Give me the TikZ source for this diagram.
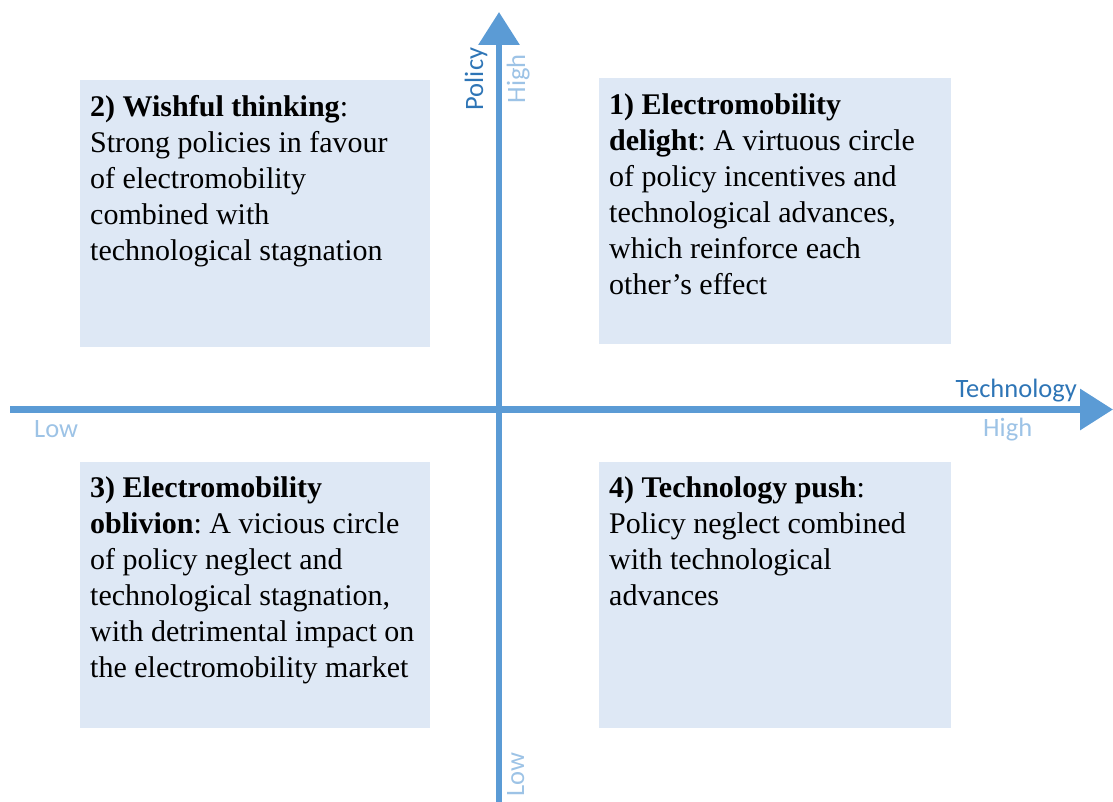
\documentclass[tikz,border=0pt]{standalone}
\usepackage{fontspec}
\setmainfont{Liberation Serif}
\newfontfamily\axisfont{Carlito}
\usetikzlibrary{arrows.meta,calc}
\definecolor{axisblue}{HTML}{5B9BD5}
\definecolor{labdark}{HTML}{2E75B6}
\definecolor{lablight}{HTML}{9DC3E6}
\definecolor{boxfill}{HTML}{DEE8F5}
\frenchspacing
\begin{document}
\begin{tikzpicture}[x=1pt,y=-1pt,
  qbox/.style={rectangle,fill=boxfill,draw=none,inner sep=0pt,anchor=north west},
  qtext/.style={anchor=north west,inner sep=0pt,align=left,font=\fontsize{30}{36}\selectfont\frenchspacing,text=black},
  axisarrow/.style={draw=axisblue,line width=6.5pt,-{Triangle[length=33pt,width=40pt]}},
  axlab/.style={font=\axisfont\fontsize{26.5}{30}\selectfont,inner sep=0pt},
  darklab/.style={axlab,text=labdark},
  lightlab/.style={axlab,text=lablight}]
\useasboundingbox (0,0) rectangle (1113,802);
% quadrant boxes
\node[qbox,minimum width=350pt,minimum height=267pt] (b2) at (80,80) {};
\node[qbox,minimum width=352pt,minimum height=266pt] (b1) at (599,78) {};
\node[qbox,minimum width=350pt,minimum height=266pt] (b3) at (80,462) {};
\node[qbox,minimum width=352pt,minimum height=266pt] (b4) at (599,462) {};
% texts
\node[qtext] (t2) at ($(b2.north west)+(10,10.8)$) {\strut\textbf{2) Wishful thinking}:\\Strong policies in favour\\of electromobility\\combined with\\technological stagnation};
\node[qtext] (t1) at ($(b1.north west)+(10,10.8)$) {\strut\textbf{1) Electromobility}\\\textbf{delight}: A virtuous circle\\of policy incentives and\\technological advances,\\which reinforce each\\other’s effect};
\node[qtext] (t3) at ($(b3.north west)+(10,10)$) {\strut\textbf{3) Electromobility}\\\textbf{oblivion}: A vicious circle\\of policy neglect and\\technological stagnation,\\with detrimental impact on\\the electromobility market};
\node[qtext] (t4) at ($(b4.north west)+(10,10)$) {\strut\textbf{4) Technology push}:\\Policy neglect combined\\with technological\\advances};
% axes
\coordinate (hL) at (10,409.5);
\coordinate (hR) at (1113,409.5);
\coordinate (vB) at (499,802);
\coordinate (vT) at (499,12);
\draw[axisarrow] (hL) -- (hR);
\draw[axisarrow] (vB) -- (vT);
% axis labels
\node[darklab,anchor=base east] (tech) at (1077,397) {Technology};
\node[lightlab,anchor=base west] (thigh) at (983,436) {High};
\node[lightlab,anchor=base west] (tlow) at (34,437) {Low};
\node[darklab,anchor=base,rotate=90] (pol) at (483,79) {Policy};
\node[lightlab,anchor=base,rotate=90] (phigh) at (525,79) {High};
\node[lightlab,anchor=base,rotate=90] (plow) at (524,775) {Low};
\end{tikzpicture}
\end{document}
